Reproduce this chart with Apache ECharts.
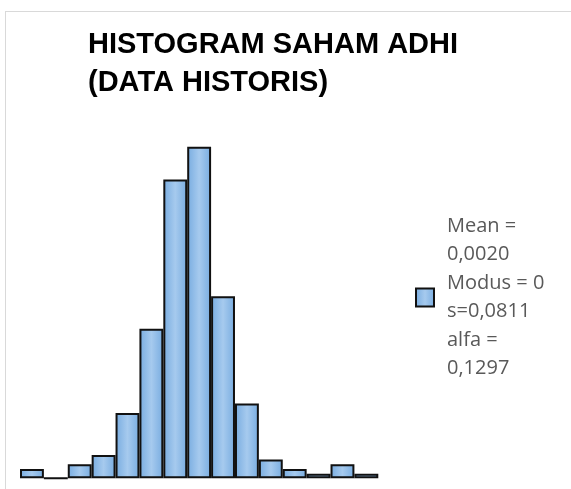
<!DOCTYPE html>
<html>
<head>
<meta charset="utf-8">
<script src="https://cdn.jsdelivr.net/npm/echarts@6/dist/echarts.min.js"></script>
<style>
  html, body { margin: 0; padding: 0; background: #fff; }
  #chart { width: 571px; height: 489px; }
</style>
</head>
<body>
<div id="chart"></div>
<script>
// kelas histogram (15 kelas, tanpa label sumbu)
const kelas = ['1', '2', '3', '4', '5', '6', '7', '8', '9', '10', '11', '12', '13', '14', '15']
// frekuensi tiap kelas
const frekuensi = [2, 0, 3, 5, 14, 32, 64, 71, 39, 16, 4, 2, 1, 3, 1]
// teks legenda
const legendLines = ['Mean =', '0,0020', 'Modus = 0', 's=0,0811', 'alfa =', '0,1297']
const seriesName = 'ADHI'

const myChart = echarts.init(document.getElementById('chart'))

// isi batang: gradasi biru
const barFill = new echarts.graphic.LinearGradient(0, 0, 1, 0, [
  {offset: 0, color: '#78ace0'},
  {offset: 0.5, color: '#a6caee'},
  {offset: 1, color: '#78ace0'}
])

myChart.setOption({
  animation: false,
  title: {
    text: 'HISTOGRAM SAHAM ADHI\n(DATA HISTORIS)',
    left: 83,
    top: 21,
    textStyle: {
      fontFamily: 'Liberation Sans',
      fontWeight: 'bold',
      fontSize: 29,
      lineHeight: 38,
      color: '#000'
    }
  },
  legend: {
    data: [seriesName],
    orient: 'vertical',
    left: 410,
    top: 207,
    icon: 'rect',
    itemWidth: 18,
    itemHeight: 18,
    formatter: function () {
      return legendLines.join('\n')
    },
    textStyle: {
      fontFamily: 'Open Sans',
      fontSize: 20,
      lineHeight: 28.5,
      color: '#595959',
      padding: [0, 0, 0, 8]
    }
  },
  graphic: [
    // bingkai tipis
    {type: 'line', shape: {x1: 5.5, y1: 11, x2: 5.5, y2: 489}, style: {stroke: '#d9d9d9', lineWidth: 1}},
    {type: 'line', shape: {x1: 5, y1: 11.5, x2: 571, y2: 11.5}, style: {stroke: '#d9d9d9', lineWidth: 1}}
  ],
  grid: {
    left: 20,
    top: 104.7,
    width: 358.3,
    bottom: 10.7
  },
  xAxis: {
    type: 'category',
    data: kelas,
    show: false
  },
  yAxis: {
    type: 'value',
    min: 0,
    max: 80,
    show: false
  },
  series: [
    {
      name: seriesName,
      type: 'bar',
      data: frekuensi,
      barCategoryGap: 0,
      itemStyle: {
        color: barFill,
        borderColor: '#111',
        borderWidth: 2
      }
    }
  ]
})
</script>
</body>
</html>
